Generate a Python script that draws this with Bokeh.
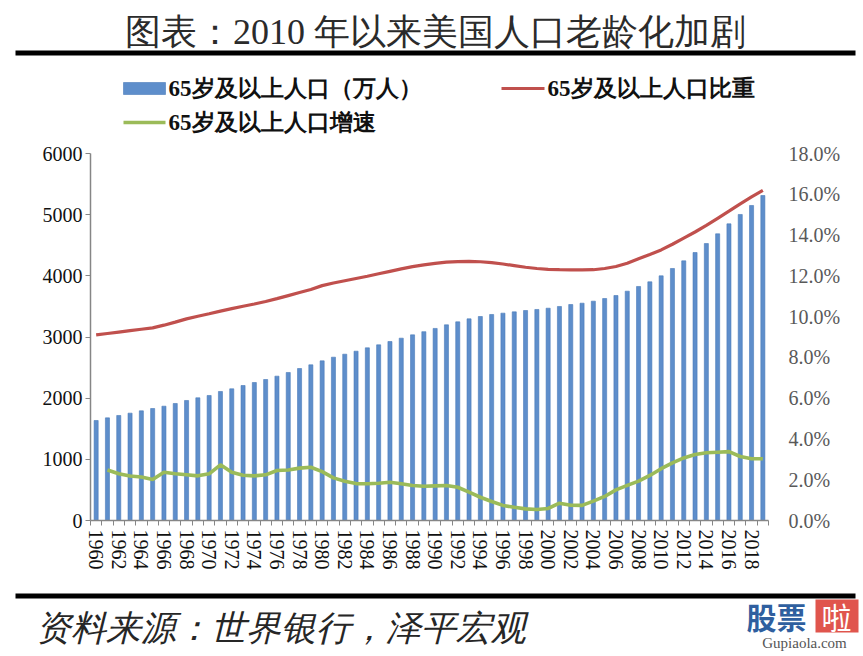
import math
from bokeh.plotting import figure
from bokeh.layouts import column, row
from bokeh.models import Range1d, LinearAxis, FixedTicker
from bokeh.core.properties import value
from bokeh.embed import file_html
from bokeh.resources import INLINE

# ---------------- data ----------------
years = list(range(1960, 2020))
pop_65 = [1635, 1678, 1717, 1755, 1793, 1831, 1869, 1913, 1962, 2006,
          2044, 2109, 2153, 2207, 2256, 2305, 2360, 2420, 2485, 2545,
          2610, 2670, 2719, 2768, 2823, 2872, 2926, 2981, 3035, 3087,
          3140, 3199, 3248, 3297, 3335, 3368, 3390, 3411, 3433, 3450,
          3471, 3499, 3531, 3553, 3586, 3629, 3678, 3749, 3826, 3902,
          4000, 4120, 4245, 4381, 4528, 4687, 4850, 5003, 5150, 5313]
share_65 = [9.10, 9.17, 9.24, 9.31, 9.38, 9.45, 9.58, 9.73, 9.89, 10.02,
            10.14, 10.27, 10.39, 10.51, 10.62, 10.74, 10.88, 11.03, 11.18, 11.33,
            11.52, 11.65, 11.76, 11.87, 11.98, 12.10, 12.22, 12.34, 12.45, 12.54,
            12.61, 12.67, 12.70, 12.71, 12.69, 12.65, 12.58, 12.50, 12.42, 12.36,
            12.32, 12.30, 12.29, 12.29, 12.30, 12.36, 12.46, 12.62, 12.84, 13.05,
            13.27, 13.55, 13.85, 14.15, 14.47, 14.82, 15.17, 15.53, 15.87, 16.19]
growth_years = years[1:]
growth_65 = [2.48, 2.29, 2.18, 2.13, 2.01, 2.37, 2.29, 2.24, 2.19,
             2.29, 2.73, 2.37, 2.22, 2.19, 2.24, 2.45, 2.48, 2.57, 2.61,
             2.40, 2.09, 1.93, 1.81, 1.80, 1.83, 1.88, 1.80, 1.72, 1.68,
             1.70, 1.72, 1.63, 1.39, 1.14, 0.93, 0.74, 0.65, 0.57, 0.54,
             0.59, 0.85, 0.75, 0.74, 0.95, 1.18, 1.50, 1.72, 1.93, 2.21,
             2.54, 2.83, 3.07, 3.24, 3.32, 3.35, 3.38, 3.14, 3.03, 3.03]
left_ticks = [0, 1000, 2000, 3000, 4000, 5000, 6000]
right_ticks = [0, 2, 4, 6, 8, 10, 12, 14, 16, 18]
x_label_years = list(range(1960, 2019, 2))

title_text = "图表：2010 年以来美国人口老龄化加剧"
name_pop = "65岁及以上人口（万人）"
name_share = "65岁及以上人口比重"
name_growth = "65岁及以上人口增速"
source_text = "资料来源：世界银行，泽平宏观"

# ---------------- styles ----------------
WW = 860
SERIF = "Liberation Serif"
AX = "#868686"
C_BAR = "#5E8ECB"
C_BAR_LINE = "#4A7AB8"
C_RED = "#C0504D"
C_GREEN = "#9BBB59"


def deco_fig(h):
    f = figure(width=WW, height=h, output_backend="svg", toolbar_location=None,
               x_range=Range1d(0, WW), y_range=Range1d(h, 0),
               x_axis_location=None, y_axis_location=None,
               min_border_left=0, min_border_right=0,
               min_border_top=0, min_border_bottom=0)
    f.grid.visible = False
    f.outline_line_color = None
    f.background_fill_color = "white"
    f.border_fill_color = "white"
    return f


def txt(f, s, x, y, size, align="left", style="normal", color="#222222",
        font=SERIF):
    f.text(x=[x], y=[y], text=[s], text_font=value(font),
           text_font_size=value(size), text_font_style=style,
           text_align=align, text_baseline="middle", text_color=color)


# ---------------- header (title + legend) ----------------
TOP_H = 138
top = deco_fig(TOP_H)
txt(top, title_text, 435, 31, "36px", align="center", color="#2B2B2B")
top.quad(left=[15], right=[855], top=[50], bottom=[55], fill_color="black",
         line_color=None)
top.quad(left=[123], right=[165], top=[82], bottom=[94], fill_color=C_BAR,
         line_color=C_BAR_LINE, line_width=0.6)
top.line(x=[501, 544], y=[88, 88], line_color=C_RED, line_width=3.2)
top.line(x=[123, 165], y=[122, 122], line_color=C_GREEN, line_width=3.6)
txt(top, name_pop, 168, 88, "23px", style="bold", color="#111111")
txt(top, name_share, 547, 88, "23px", style="bold", color="#111111")
txt(top, name_growth, 168, 122, "23px", style="bold", color="#111111")

# ---------------- main chart ----------------
FL, FR, FT, FB = 90, 768, 153, 520
MAIN_H = 445
p = figure(width=WW, height=MAIN_H, output_backend="svg", toolbar_location=None,
           x_range=Range1d(1959.5, 2019.5), y_range=Range1d(0, 6000),
           min_border_left=FL, min_border_right=WW - FR,
           min_border_top=FT - TOP_H, min_border_bottom=TOP_H + MAIN_H - FB)
p.grid.visible = False
p.outline_line_color = None
p.background_fill_color = "white"
p.border_fill_color = "white"
p.extra_y_ranges = {"pct": Range1d(0, 18)}

xa = p.xaxis[0]
xa.ticker = FixedTicker(ticks=x_label_years,
                        minor_ticks=[y - 0.5 for y in range(1960, 2021)])
xa.axis_line_color = AX
xa.axis_line_width = 1.5
xa.major_tick_line_color = None
xa.major_tick_out = 0
xa.major_tick_in = 0
xa.minor_tick_line_color = AX
xa.minor_tick_out = 5
xa.minor_tick_in = 0
xa.major_label_orientation = -math.pi / 2
xa.major_label_standoff = 4
xa.major_label_text_font = SERIF
xa.major_label_text_font_size = "20px"
xa.major_label_text_color = "#111111"
xa.major_label_overrides = {y: str(y) for y in x_label_years}

ya = p.yaxis[0]
ya.ticker = FixedTicker(ticks=left_ticks)
ya.axis_line_color = AX
ya.axis_line_width = 1.5
ya.major_tick_line_color = AX
ya.major_tick_out = 5
ya.major_tick_in = 0
ya.minor_tick_line_color = None
ya.major_label_standoff = 3
ya.major_label_text_font = SERIF
ya.major_label_text_font_size = "20px"
ya.major_label_text_color = "#111111"

ra = LinearAxis(y_range_name="pct", ticker=FixedTicker(ticks=right_ticks))
ra.axis_line_color = None
ra.major_tick_line_color = None
ra.minor_tick_line_color = None
ra.major_label_standoff = 14
ra.major_label_text_font = SERIF
ra.major_label_text_font_size = "20px"
ra.major_label_text_color = "#595959"
ra.major_label_overrides = {t: f"{t:.1f}%" for t in right_ticks}
p.add_layout(ra, "right")

p.vbar(x=years, top=pop_65, width=0.36, fill_color=C_BAR,
       line_color=C_BAR_LINE, line_width=0.6)
p.line(years, share_65, y_range_name="pct", line_color=C_RED, line_width=3.2)
p.line(growth_years, growth_65, y_range_name="pct", line_color=C_GREEN,
       line_width=3.6)

# ---------------- footer ----------------
BOT_H = 70
bot = deco_fig(BOT_H)
bot.quad(left=[15], right=[855], top=[10], bottom=[15], fill_color="black",
         line_color=None)
txt(bot, source_text, 35, 45, "35px", style="italic", color="#262626")
# watermark
txt(bot, "股票", 746, 32, "30px", style="bold", color="#2F5F9F",
    font="Noto Sans CJK SC")
bot.quad(left=[815], right=[858], top=[16], bottom=[49], fill_color="#E0554D",
         line_color=None)
txt(bot, "啦", 836, 32, "30px", align="center", color="white",
    font="Noto Sans CJK SC")
txt(bot, "Gupiaola.com", 804, 59, "15px", align="center", color="#555555")

layout = column(row(top), row(p), row(bot), spacing=0)
open("out.html", "w").write(file_html(layout, INLINE))
